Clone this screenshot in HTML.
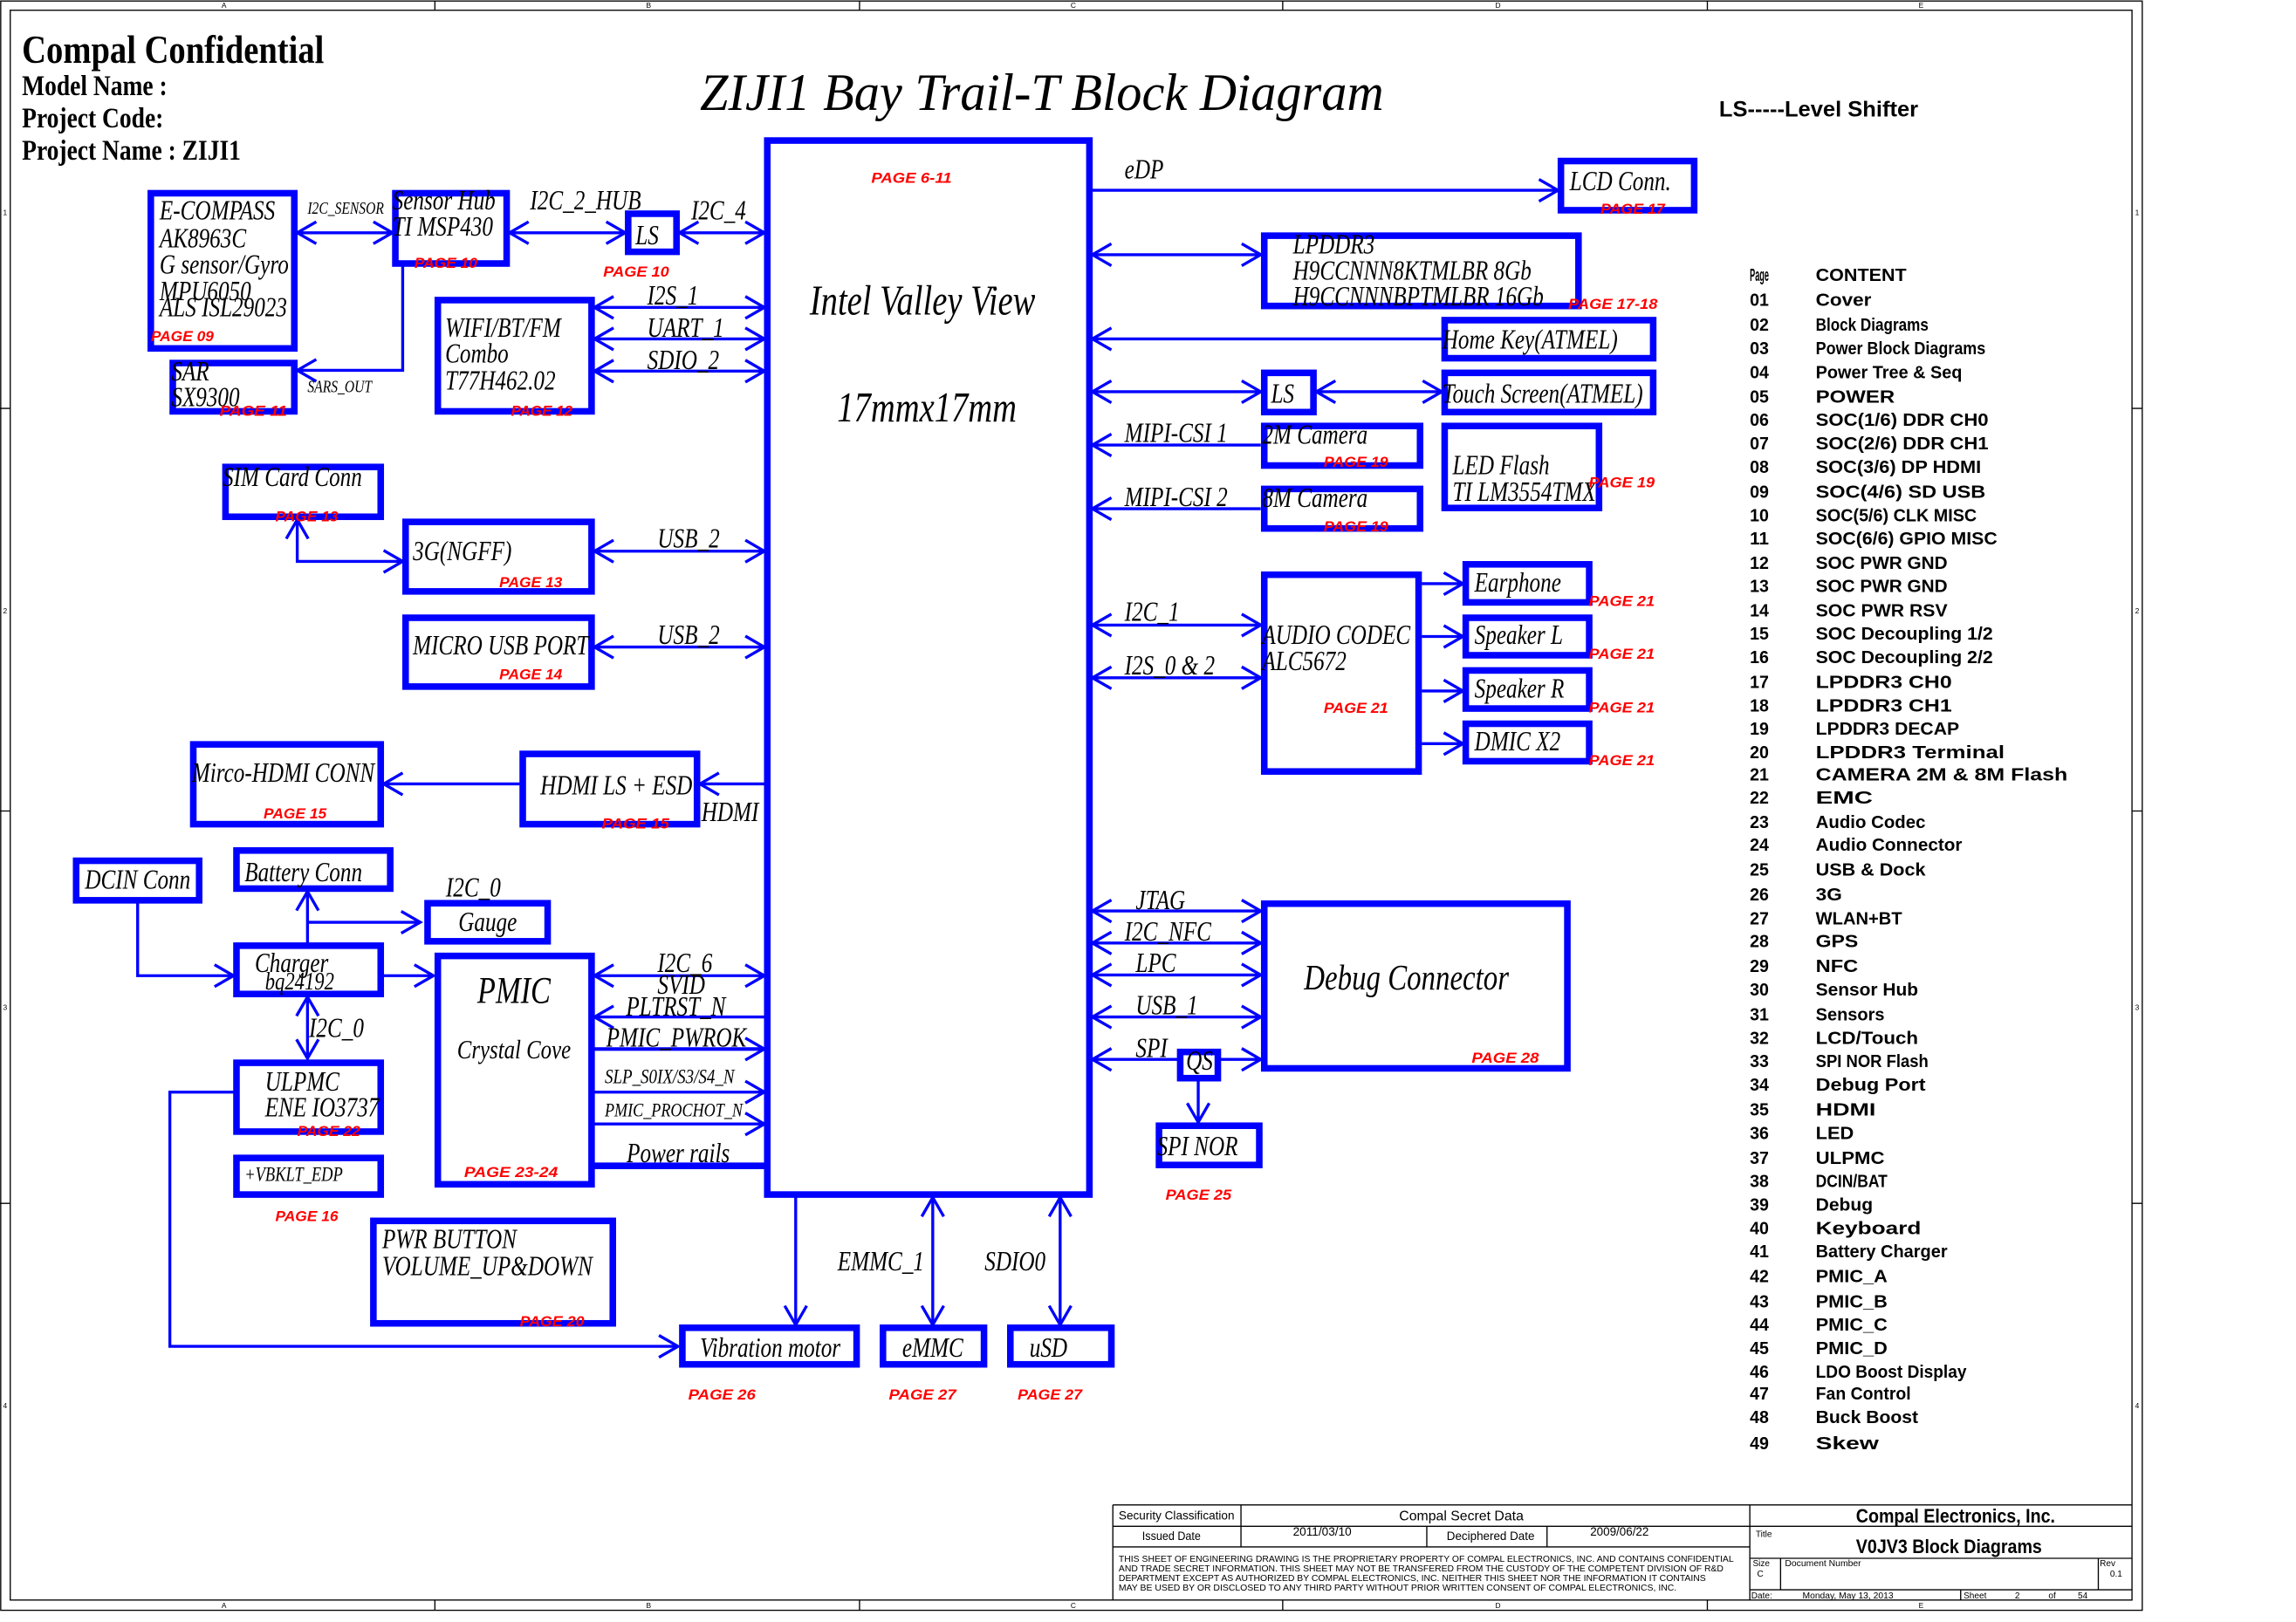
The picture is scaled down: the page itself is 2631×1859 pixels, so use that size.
<!DOCTYPE html>
<html><head><meta charset="utf-8"><style>
html,body{margin:0;padding:0;background:#fff}
svg{display:block}
.t{font-family:"Liberation Serif",serif;font-style:italic;font-size:15px;fill:#000}
.s{font-family:"Liberation Serif",serif;font-style:italic;font-size:10px;fill:#000}
.r{font-family:"Liberation Sans",sans-serif;font-style:italic;font-weight:bold;font-size:10px;fill:#ff0000}
.b{fill:none;stroke:#0000ff;stroke-width:4.5}
.l{fill:none;stroke:#0000ff;stroke-width:2}
.k{fill:none;stroke:#000;stroke-width:0.8}
.f{font-family:"Liberation Sans",sans-serif;fill:#000}
.ix{font-family:"Liberation Sans",sans-serif;font-weight:bold;font-size:12px;fill:#000}
</style></head><body>
<svg width="2631" height="1859" viewBox="0 0 1568 1108" preserveAspectRatio="none" xmlns="http://www.w3.org/2000/svg">
<defs>
<marker id="a" markerUnits="userSpaceOnUse" markerWidth="20" markerHeight="20" refX="13" refY="7.5" orient="auto-start-reverse" overflow="visible"><path d="M0,0 L13,7.5 L0,15" fill="none" stroke="#0000ff" stroke-width="2"/></marker>
</defs>
<rect width="1568" height="1108" fill="#fff"/>
<!-- frame -->
<rect x="0.5" y="0.7" width="1462.5" height="1099.3" class="k"/>
<rect x="7" y="7" width="1449" height="1086" class="k"/>
<g class="k">
<path d="M297,0.7V7M587,0.7V7M876,0.7V7M1166,0.7V7M297,1093V1100M587,1093V1100M876,1093V1100M1166,1093V1100"/>
<path d="M0,279H7M0,554H7M0,822H7M1456,279H1463M1456,554H1463M1456,822H1463"/>
</g>
<g class="f" font-size="5" text-anchor="middle">
<text x="153" y="5.5">A</text><text x="443" y="5.5">B</text><text x="733" y="5.5">C</text><text x="1023" y="5.5">D</text><text x="1312" y="5.5">E</text>
<text x="153" y="1098.5">A</text><text x="443" y="1098.5">B</text><text x="733" y="1098.5">C</text><text x="1023" y="1098.5">D</text><text x="1312" y="1098.5">E</text>
<text x="3.5" y="147">1</text><text x="3.5" y="419">2</text><text x="3.5" y="690">3</text><text x="3.5" y="962">4</text>
<text x="1459.5" y="147">1</text><text x="1459.5" y="419">2</text><text x="1459.5" y="690">3</text><text x="1459.5" y="962">4</text>
</g>

<!-- header -->
<g font-family="Liberation Serif, serif" font-weight="bold" fill="#000">
<text transform="matrix(1 0 0 1.17 15 43)" font-size="23">Compal Confidential</text>
<text transform="matrix(1 0 0 1.2 15 65)" font-size="16.4">Model Name :</text>
<text transform="matrix(1 0 0 1.2 15 87)" font-size="16.4">Project Code:</text>
<text transform="matrix(1 0 0 1.2 15 109)" font-size="16.4">Project Name : ZIJI1</text>
</g>
<text x="478" y="75" class="t" style="font-size:36px" textLength="467" lengthAdjust="spacingAndGlyphs">ZIJI1 Bay Trail-T Block Diagram</text>
<text x="1174" y="79.5" class="f" font-weight="bold" font-size="15" textLength="136" lengthAdjust="spacingAndGlyphs">LS-----Level Shifter</text>

<!-- boxes -->
<g class="b">
<rect x="524" y="96" width="220" height="720"/>
<rect x="103" y="132" width="98" height="106"/>
<rect x="270" y="132" width="76" height="48"/>
<rect x="429" y="146" width="33" height="26"/>
<rect x="118" y="248" width="83" height="33"/>
<rect x="299" y="205" width="105" height="76"/>
<rect x="154" y="319" width="106" height="34"/>
<rect x="277" y="356.5" width="127" height="47.5"/>
<rect x="277" y="422" width="127" height="47"/>
<rect x="132" y="508.5" width="128" height="54.5"/>
<rect x="357" y="515" width="119" height="48"/>
<rect x="52" y="588" width="84" height="27"/>
<rect x="161.5" y="581" width="105" height="26"/>
<rect x="292" y="617" width="82" height="26"/>
<rect x="161.5" y="646" width="98.5" height="33"/>
<rect x="161.5" y="726" width="98.5" height="47"/>
<rect x="161.5" y="791" width="98.5" height="25"/>
<rect x="299" y="653" width="105" height="156"/>
<rect x="255" y="834" width="163.5" height="70"/>
<rect x="466" y="907" width="119" height="25"/>
<rect x="603" y="907" width="69" height="25"/>
<rect x="690" y="907" width="69" height="25"/>
<rect x="1066" y="110" width="91" height="33.6"/>
<rect x="863.4" y="161" width="214.6" height="48"/>
<rect x="986.6" y="218.7" width="142.4" height="26"/>
<rect x="863.4" y="254.7" width="33.6" height="26.8"/>
<rect x="986.6" y="254.7" width="142.4" height="26.8"/>
<rect x="863.4" y="291" width="106.4" height="27"/>
<rect x="863.4" y="334" width="106.4" height="27"/>
<rect x="986.6" y="291" width="105.4" height="56"/>
<rect x="863.4" y="392.6" width="105.4" height="134.4"/>
<rect x="1001" y="385.5" width="84.3" height="26"/>
<rect x="1001" y="422" width="84.3" height="25.6"/>
<rect x="1001" y="458" width="84.3" height="26"/>
<rect x="1001" y="494.4" width="84.3" height="25.6"/>
<rect x="863.4" y="617.3" width="207" height="112.5"/>
<rect x="806" y="718.6" width="25.7" height="17.9"/>
<rect x="791.5" y="769" width="68.5" height="26.8"/>
</g>

<!-- connectors -->
<g class="l">
<path d="M203,159H268" marker-start="url(#a)" marker-end="url(#a)"/>
<path d="M348,159H427" marker-start="url(#a)" marker-end="url(#a)"/>
<path d="M464,159H522" marker-start="url(#a)" marker-end="url(#a)"/>
<path d="M275,182V253H203" marker-end="url(#a)"/>
<path d="M406,210H522" marker-start="url(#a)" marker-end="url(#a)"/>
<path d="M406,231.5H522" marker-start="url(#a)" marker-end="url(#a)"/>
<path d="M406,253.5H522" marker-start="url(#a)" marker-end="url(#a)"/>
<path d="M275,383.5H203V355" marker-start="url(#a)" marker-end="url(#a)"/>
<path d="M406,376.5H522" marker-start="url(#a)" marker-end="url(#a)"/>
<path d="M406,442H522" marker-start="url(#a)" marker-end="url(#a)"/>
<path d="M522,535.5H478" marker-end="url(#a)"/>
<path d="M355,535.5H262" marker-end="url(#a)"/>
<path d="M94,617V666.5H159.5" marker-end="url(#a)"/>
<path d="M210,644V609" marker-end="url(#a)"/>
<path d="M210,630H287" marker-end="url(#a)"/>
<path d="M262,666.5H296" marker-end="url(#a)"/>
<path d="M210,681V723" marker-start="url(#a)" marker-end="url(#a)"/>
<path d="M159.5,746H116V919.7H463" marker-end="url(#a)"/>
<path d="M406,666.5H522" marker-start="url(#a)" marker-end="url(#a)"/>
<path d="M522,694.7H406" marker-end="url(#a)"/>
<path d="M406,716.6H522" marker-end="url(#a)" stroke-width="2.5"/>
<path d="M406,746H522" marker-end="url(#a)"/>
<path d="M406,767.8H522" marker-end="url(#a)"/>
<path d="M406,796.4H522" stroke-width="4.5"/>
<path d="M543.4,818V905" marker-end="url(#a)"/>
<path d="M637,818V905" marker-start="url(#a)" marker-end="url(#a)"/>
<path d="M724,818V905" marker-start="url(#a)" marker-end="url(#a)"/>
<path d="M746,130H1064" marker-end="url(#a)"/>
<path d="M746,174H861" marker-start="url(#a)" marker-end="url(#a)"/>
<path d="M984.6,231.5H746" marker-end="url(#a)"/>
<path d="M746,267.6H861" marker-start="url(#a)" marker-end="url(#a)"/>
<path d="M899,267.6H984.6" marker-start="url(#a)" marker-end="url(#a)"/>
<path d="M861,304H746" marker-end="url(#a)"/>
<path d="M861,347.5H746" marker-end="url(#a)"/>
<path d="M746,427H861" marker-start="url(#a)" marker-end="url(#a)"/>
<path d="M746,463H861" marker-start="url(#a)" marker-end="url(#a)"/>
<path d="M971,398.7H999" marker-end="url(#a)"/>
<path d="M971,434.8H999" marker-end="url(#a)"/>
<path d="M971,472H999" marker-end="url(#a)"/>
<path d="M971,508H999" marker-end="url(#a)"/>
<path d="M746,622.3H861" marker-start="url(#a)" marker-end="url(#a)"/>
<path d="M746,644.2H861" marker-start="url(#a)" marker-end="url(#a)"/>
<path d="M746,666H861" marker-start="url(#a)" marker-end="url(#a)"/>
<path d="M746,694.7H861" marker-start="url(#a)" marker-end="url(#a)"/>
<path d="M746,723.7H804" marker-start="url(#a)"/>
<path d="M833.7,723.7H861" marker-end="url(#a)"/>
<path d="M818.3,738.5V766.6" marker-end="url(#a)"/>
</g>

<!-- labels -->
<g>
<text class="t" transform="matrix(1 0 0 1.25 109 150)">E-COMPASS</text>
<text class="t" transform="matrix(1 0 0 1.25 109 169)">AK8963C</text>
<text class="t" transform="matrix(1 0 0 1.25 109 187)">G sensor/Gyro</text>
<text class="t" transform="matrix(1 0 0 1.25 109 205)">MPU6050</text>
<text class="t" transform="matrix(1 0 0 1.25 109 216)">ALS ISL29023</text>
<text class="s" transform="matrix(1 0 0 1.25 210 146)" style="font-size:9.3px">I2C_SENSOR</text>
<text class="t" transform="matrix(1 0 0 1.25 268 143)">Sensor Hub</text>
<text class="t" transform="matrix(1 0 0 1.25 268 161)">TI MSP430</text>
<text class="t" transform="matrix(1 0 0 1.25 362 143)">I2C_2_HUB</text>
<text class="t" transform="matrix(1 0 0 1.25 434 167)">LS</text>
<text class="t" transform="matrix(1 0 0 1.25 472 150)">I2C_4</text>
<text class="t" transform="matrix(1 0 0 1.25 117 260)">SAR</text>
<text class="t" transform="matrix(1 0 0 1.25 117 277.5)">SX9300</text>
<text class="s" transform="matrix(1 0 0 1.25 210 268)" style="font-size:9.3px">SARS_OUT</text>
<text class="t" transform="matrix(1 0 0 1.25 304 230)">WIFI/BT/FM</text>
<text class="t" transform="matrix(1 0 0 1.25 304 247.5)">Combo</text>
<text class="t" transform="matrix(1 0 0 1.25 304 266)">T77H462.02</text>
<text class="t" transform="matrix(1 0 0 1.25 442 208)">I2S_1</text>
<text class="t" transform="matrix(1 0 0 1.25 442 230)">UART_1</text>
<text class="t" transform="matrix(1 0 0 1.25 442 252)">SDIO_2</text>
<text class="t" style="font-size:23px" text-anchor="middle" transform="matrix(1 0 0 1.25 630 215)">Intel Valley View</text>
<text class="t" style="font-size:23px" text-anchor="middle" transform="matrix(1 0 0 1.25 633 288)">17mmx17mm</text>
<text class="t" transform="matrix(1 0 0 1.25 152 332)">SIM Card Conn</text>
<text class="t" transform="matrix(1 0 0 1.25 282 382.5)">3G(NGFF)</text>
<text class="t" transform="matrix(1 0 0 1.25 449 374)">USB_2</text>
<text class="t" transform="matrix(1 0 0 1.25 282 447)">MICRO USB PORT</text>
<text class="t" transform="matrix(1 0 0 1.25 449 440)">USB_2</text>
<text class="t" transform="matrix(1 0 0 1.25 131 534)">Mirco-HDMI CONN</text>
<text class="t" transform="matrix(1 0 0 1.25 369 542.6)">HDMI LS + ESD</text>
<text class="t" transform="matrix(1 0 0 1.25 479 561)">HDMI</text>
<text class="t" transform="matrix(1 0 0 1.25 58 607)">DCIN Conn</text>
<text class="t" transform="matrix(1 0 0 1.25 167 602)">Battery Conn</text>
<text class="t" transform="matrix(1 0 0 1.25 304.5 612.5)">I2C_0</text>
<text class="t" text-anchor="middle" transform="matrix(1 0 0 1.25 333 636)">Gauge</text>
<text class="t" transform="matrix(1 0 0 1.25 174 664)">Charger</text>
<text class="t" style="font-size:13.5px" transform="matrix(1 0 0 1.25 181 676)">bq24192</text>
<text class="t" transform="matrix(1 0 0 1.25 211 708.5)">I2C_0</text>
<text class="t" transform="matrix(1 0 0 1.25 181 745)">ULPMC</text>
<text class="t" transform="matrix(1 0 0 1.25 181 762.5)">ENE IO3737</text>
<text class="s" style="font-size:11px" transform="matrix(1 0 0 1.25 167 806.7)">+VBKLT_EDP</text>
<text class="t" style="font-size:20.5px" text-anchor="middle" transform="matrix(1 0 0 1.25 351 685)">PMIC</text>
<text class="t" style="font-size:14.8px" text-anchor="middle" transform="matrix(1 0 0 1.25 351 723)">Crystal Cove</text>
<text class="t" transform="matrix(1 0 0 1.25 449 664)">I2C_6</text>
<text class="t" transform="matrix(1 0 0 1.25 449 679)">SVID</text>
<text class="t" transform="matrix(1 0 0 1.25 427.5 693.7)">PLTRST_N</text>
<text class="t" transform="matrix(1 0 0 1.25 414 715)">PMIC_PWROK</text>
<text class="s" style="font-size:11.3px" transform="matrix(1 0 0 1.25 413 740)">SLP_S0IX/S3/S4_N</text>
<text class="s" style="font-size:10.8px" transform="matrix(1 0 0 1.25 413 762.5)">PMIC_PROCHOT_N</text>
<text class="t" transform="matrix(1 0 0 1.25 428 794)">Power rails</text>
<text class="t" transform="matrix(1 0 0 1.25 261 852.6)">PWR BUTTON</text>
<text class="t" transform="matrix(1 0 0 1.25 261 871)">VOLUME_UP&amp;DOWN</text>
<text class="t" text-anchor="middle" transform="matrix(1 0 0 1.25 526 926.7)">Vibration motor</text>
<text class="t" text-anchor="middle" transform="matrix(1 0 0 1.25 637 926.7)">eMMC</text>
<text class="t" text-anchor="middle" transform="matrix(1 0 0 1.25 716 926.7)">uSD</text>
<text class="t" transform="matrix(1 0 0 1.25 572 867.8)">EMMC_1</text>
<text class="t" transform="matrix(1 0 0 1.25 672.4 867.8)">SDIO0</text>
<text class="t" transform="matrix(1 0 0 1.25 768 122)">eDP</text>
<text class="t" transform="matrix(1 0 0 1.25 1072 130)">LCD Conn.</text>
<text class="t" transform="matrix(1 0 0 1.25 883 173)">LPDDR3</text>
<text class="t" transform="matrix(1 0 0 1.25 883 191)">H9CCNNN8KTMLBR 8Gb</text>
<text class="t" transform="matrix(1 0 0 1.25 883 208.5)">H9CCNNNBPTMLBR 16Gb</text>
<text class="t" transform="matrix(1 0 0 1.25 985 238)">Home Key(ATMEL)</text>
<text class="t" transform="matrix(1 0 0 1.25 868 275)">LS</text>
<text class="t" transform="matrix(1 0 0 1.25 985 275)">Touch Screen(ATMEL)</text>
<text class="t" transform="matrix(1 0 0 1.25 862 303)">2M Camera</text>
<text class="t" transform="matrix(1 0 0 1.25 862 346.4)">8M Camera</text>
<text class="t" transform="matrix(1 0 0 1.25 768 302)">MIPI-CSI 1</text>
<text class="t" transform="matrix(1 0 0 1.25 768 345.7)">MIPI-CSI 2</text>
<text class="t" transform="matrix(1 0 0 1.25 992 324)">LED Flash</text>
<text class="t" transform="matrix(1 0 0 1.25 992 342)">TI LM3554TMX</text>
<text class="t" transform="matrix(1 0 0 1.25 862 440)">AUDIO CODEC</text>
<text class="t" transform="matrix(1 0 0 1.25 862 457.8)">ALC5672</text>
<text class="t" transform="matrix(1 0 0 1.25 768 424)">I2C_1</text>
<text class="t" transform="matrix(1 0 0 1.25 768 460.6)">I2S_0 &amp; 2</text>
<text class="t" transform="matrix(1 0 0 1.25 1007 404)">Earphone</text>
<text class="t" transform="matrix(1 0 0 1.25 1007 440)">Speaker L</text>
<text class="t" transform="matrix(1 0 0 1.25 1007 476.5)">Speaker R</text>
<text class="t" transform="matrix(1 0 0 1.25 1007 512.6)">DMIC X2</text>
<text class="t" style="font-size:19.6px" text-anchor="middle" transform="matrix(1 0 0 1.25 960.5 676)">Debug Connector</text>
<text class="t" transform="matrix(1 0 0 1.25 775.6 621)">JTAG</text>
<text class="t" transform="matrix(1 0 0 1.25 768 642.5)">I2C_NFC</text>
<text class="t" transform="matrix(1 0 0 1.25 775.6 664)">LPC</text>
<text class="t" transform="matrix(1 0 0 1.25 775.6 693)">USB_1</text>
<text class="t" transform="matrix(1 0 0 1.25 775.6 722)">SPI</text>
<text class="t" transform="matrix(1 0 0 1.25 810 730.8)">QS</text>
<text class="t" transform="matrix(1 0 0 1.25 790 789)">SPI NOR</text>
</g>

<!-- red page marks -->
<g class="r">
<text x="103" y="233" textLength="43" lengthAdjust="spacingAndGlyphs">PAGE 09</text>
<text x="283" y="183" textLength="43" lengthAdjust="spacingAndGlyphs">PAGE 10</text>
<text x="412" y="189" textLength="45" lengthAdjust="spacingAndGlyphs">PAGE 10</text>
<text x="150" y="284" textLength="46" lengthAdjust="spacingAndGlyphs">PAGE 11</text>
<text x="349" y="284" textLength="42" lengthAdjust="spacingAndGlyphs">PAGE 12</text>
<text x="595" y="125" textLength="55" lengthAdjust="spacingAndGlyphs">PAGE 6-11</text>
<text x="188" y="356" textLength="43" lengthAdjust="spacingAndGlyphs">PAGE 13</text>
<text x="341" y="401" textLength="43" lengthAdjust="spacingAndGlyphs">PAGE 13</text>
<text x="341" y="464" textLength="43" lengthAdjust="spacingAndGlyphs">PAGE 14</text>
<text x="180" y="559" textLength="43" lengthAdjust="spacingAndGlyphs">PAGE 15</text>
<text x="411" y="566" textLength="46" lengthAdjust="spacingAndGlyphs">PAGE 15</text>
<text x="203" y="776" textLength="43" lengthAdjust="spacingAndGlyphs">PAGE 22</text>
<text x="188" y="834" textLength="43" lengthAdjust="spacingAndGlyphs">PAGE 16</text>
<text x="317" y="804" textLength="64" lengthAdjust="spacingAndGlyphs">PAGE 23-24</text>
<text x="355" y="906" textLength="44" lengthAdjust="spacingAndGlyphs">PAGE 20</text>
<text x="470" y="956" textLength="46" lengthAdjust="spacingAndGlyphs">PAGE 26</text>
<text x="607" y="956" textLength="46" lengthAdjust="spacingAndGlyphs">PAGE 27</text>
<text x="695" y="956" textLength="44" lengthAdjust="spacingAndGlyphs">PAGE 27</text>
<text x="1093" y="146" textLength="44" lengthAdjust="spacingAndGlyphs">PAGE 17</text>
<text x="1071" y="211" textLength="61" lengthAdjust="spacingAndGlyphs">PAGE 17-18</text>
<text x="904" y="319" textLength="44" lengthAdjust="spacingAndGlyphs">PAGE 19</text>
<text x="904" y="363" textLength="44" lengthAdjust="spacingAndGlyphs">PAGE 19</text>
<text x="1085" y="333" textLength="45" lengthAdjust="spacingAndGlyphs">PAGE 19</text>
<text x="904" y="487" textLength="44" lengthAdjust="spacingAndGlyphs">PAGE 21</text>
<text x="1085" y="414" textLength="45" lengthAdjust="spacingAndGlyphs">PAGE 21</text>
<text x="1085" y="450" textLength="45" lengthAdjust="spacingAndGlyphs">PAGE 21</text>
<text x="1085" y="486.6" textLength="45" lengthAdjust="spacingAndGlyphs">PAGE 21</text>
<text x="1085" y="522.6" textLength="45" lengthAdjust="spacingAndGlyphs">PAGE 21</text>
<text x="1005" y="726" textLength="46" lengthAdjust="spacingAndGlyphs">PAGE 28</text>
<text x="796" y="819.6" textLength="45" lengthAdjust="spacingAndGlyphs">PAGE 25</text>
</g>

<!-- index table -->
<g class="ix">
<text x="1195" y="192" textLength="13" lengthAdjust="spacingAndGlyphs">Page</text><text x="1240" y="192" textLength="62" lengthAdjust="spacingAndGlyphs">CONTENT</text>
<text x="1195" y="209" textLength="13" lengthAdjust="spacingAndGlyphs">01</text><text x="1240" y="209" textLength="38" lengthAdjust="spacingAndGlyphs">Cover</text>
<text x="1195" y="226" textLength="13" lengthAdjust="spacingAndGlyphs">02</text><text x="1240" y="226" textLength="77" lengthAdjust="spacingAndGlyphs">Block Diagrams</text>
<text x="1195" y="242" textLength="13" lengthAdjust="spacingAndGlyphs">03</text><text x="1240" y="242" textLength="116" lengthAdjust="spacingAndGlyphs">Power Block Diagrams</text>
<text x="1195" y="258.5" textLength="13" lengthAdjust="spacingAndGlyphs">04</text><text x="1240" y="258.5" textLength="100" lengthAdjust="spacingAndGlyphs">Power Tree &amp; Seq</text>
<text x="1195" y="275" textLength="13" lengthAdjust="spacingAndGlyphs">05</text><text x="1240" y="275" textLength="54" lengthAdjust="spacingAndGlyphs">POWER</text>
<text x="1195" y="291" textLength="13" lengthAdjust="spacingAndGlyphs">06</text><text x="1240" y="291" textLength="118" lengthAdjust="spacingAndGlyphs">SOC(1/6) DDR CH0</text>
<text x="1195" y="307" textLength="13" lengthAdjust="spacingAndGlyphs">07</text><text x="1240" y="307" textLength="118" lengthAdjust="spacingAndGlyphs">SOC(2/6) DDR CH1</text>
<text x="1195" y="323" textLength="13" lengthAdjust="spacingAndGlyphs">08</text><text x="1240" y="323" textLength="113" lengthAdjust="spacingAndGlyphs">SOC(3/6) DP HDMI</text>
<text x="1195" y="340" textLength="13" lengthAdjust="spacingAndGlyphs">09</text><text x="1240" y="340" textLength="116" lengthAdjust="spacingAndGlyphs">SOC(4/6) SD USB</text>
<text x="1195" y="356" textLength="13" lengthAdjust="spacingAndGlyphs">10</text><text x="1240" y="356" textLength="110" lengthAdjust="spacingAndGlyphs">SOC(5/6) CLK MISC</text>
<text x="1195" y="372" textLength="13" lengthAdjust="spacingAndGlyphs">11</text><text x="1240" y="372" textLength="124" lengthAdjust="spacingAndGlyphs">SOC(6/6) GPIO MISC</text>
<text x="1195" y="388.5" textLength="13" lengthAdjust="spacingAndGlyphs">12</text><text x="1240" y="388.5" textLength="90" lengthAdjust="spacingAndGlyphs">SOC PWR GND</text>
<text x="1195" y="404.5" textLength="13" lengthAdjust="spacingAndGlyphs">13</text><text x="1240" y="404.5" textLength="90" lengthAdjust="spacingAndGlyphs">SOC PWR GND</text>
<text x="1195" y="421" textLength="13" lengthAdjust="spacingAndGlyphs">14</text><text x="1240" y="421" textLength="90" lengthAdjust="spacingAndGlyphs">SOC PWR RSV</text>
<text x="1195" y="437" textLength="13" lengthAdjust="spacingAndGlyphs">15</text><text x="1240" y="437" textLength="121" lengthAdjust="spacingAndGlyphs">SOC Decoupling 1/2</text>
<text x="1195" y="453" textLength="13" lengthAdjust="spacingAndGlyphs">16</text><text x="1240" y="453" textLength="121" lengthAdjust="spacingAndGlyphs">SOC Decoupling 2/2</text>
<text x="1195" y="470" textLength="13" lengthAdjust="spacingAndGlyphs">17</text><text x="1240" y="470" textLength="93" lengthAdjust="spacingAndGlyphs">LPDDR3 CH0</text>
<text x="1195" y="486" textLength="13" lengthAdjust="spacingAndGlyphs">18</text><text x="1240" y="486" textLength="93" lengthAdjust="spacingAndGlyphs">LPDDR3 CH1</text>
<text x="1195" y="502" textLength="13" lengthAdjust="spacingAndGlyphs">19</text><text x="1240" y="502" textLength="98" lengthAdjust="spacingAndGlyphs">LPDDR3 DECAP</text>
<text x="1195" y="518" textLength="13" lengthAdjust="spacingAndGlyphs">20</text><text x="1240" y="518" textLength="129" lengthAdjust="spacingAndGlyphs">LPDDR3 Terminal</text>
<text x="1195" y="533" textLength="13" lengthAdjust="spacingAndGlyphs">21</text><text x="1240" y="533" textLength="172" lengthAdjust="spacingAndGlyphs">CAMERA 2M &amp; 8M Flash</text>
<text x="1195" y="549" textLength="13" lengthAdjust="spacingAndGlyphs">22</text><text x="1240" y="549" textLength="39" lengthAdjust="spacingAndGlyphs">EMC</text>
<text x="1195" y="565.6" textLength="13" lengthAdjust="spacingAndGlyphs">23</text><text x="1240" y="565.6" textLength="75" lengthAdjust="spacingAndGlyphs">Audio Codec</text>
<text x="1195" y="581" textLength="13" lengthAdjust="spacingAndGlyphs">24</text><text x="1240" y="581" textLength="100" lengthAdjust="spacingAndGlyphs">Audio Connector</text>
<text x="1195" y="598" textLength="13" lengthAdjust="spacingAndGlyphs">25</text><text x="1240" y="598" textLength="75" lengthAdjust="spacingAndGlyphs">USB &amp; Dock</text>
<text x="1195" y="615" textLength="13" lengthAdjust="spacingAndGlyphs">26</text><text x="1240" y="615" textLength="18" lengthAdjust="spacingAndGlyphs">3G</text>
<text x="1195" y="631.6" textLength="13" lengthAdjust="spacingAndGlyphs">27</text><text x="1240" y="631.6" textLength="59" lengthAdjust="spacingAndGlyphs">WLAN+BT</text>
<text x="1195" y="647" textLength="13" lengthAdjust="spacingAndGlyphs">28</text><text x="1240" y="647" textLength="29" lengthAdjust="spacingAndGlyphs">GPS</text>
<text x="1195" y="664" textLength="13" lengthAdjust="spacingAndGlyphs">29</text><text x="1240" y="664" textLength="29" lengthAdjust="spacingAndGlyphs">NFC</text>
<text x="1195" y="680" textLength="13" lengthAdjust="spacingAndGlyphs">30</text><text x="1240" y="680" textLength="70" lengthAdjust="spacingAndGlyphs">Sensor Hub</text>
<text x="1195" y="697" textLength="13" lengthAdjust="spacingAndGlyphs">31</text><text x="1240" y="697" textLength="47" lengthAdjust="spacingAndGlyphs">Sensors</text>
<text x="1195" y="713" textLength="13" lengthAdjust="spacingAndGlyphs">32</text><text x="1240" y="713" textLength="70" lengthAdjust="spacingAndGlyphs">LCD/Touch</text>
<text x="1195" y="729" textLength="13" lengthAdjust="spacingAndGlyphs">33</text><text x="1240" y="729" textLength="77" lengthAdjust="spacingAndGlyphs">SPI NOR Flash</text>
<text x="1195" y="745" textLength="13" lengthAdjust="spacingAndGlyphs">34</text><text x="1240" y="745" textLength="75" lengthAdjust="spacingAndGlyphs">Debug Port</text>
<text x="1195" y="762" textLength="13" lengthAdjust="spacingAndGlyphs">35</text><text x="1240" y="762" textLength="41" lengthAdjust="spacingAndGlyphs">HDMI</text>
<text x="1195" y="778" textLength="13" lengthAdjust="spacingAndGlyphs">36</text><text x="1240" y="778" textLength="26" lengthAdjust="spacingAndGlyphs">LED</text>
<text x="1195" y="795" textLength="13" lengthAdjust="spacingAndGlyphs">37</text><text x="1240" y="795" textLength="47" lengthAdjust="spacingAndGlyphs">ULPMC</text>
<text x="1195" y="811" textLength="13" lengthAdjust="spacingAndGlyphs">38</text><text x="1240" y="811" textLength="49" lengthAdjust="spacingAndGlyphs">DCIN/BAT</text>
<text x="1195" y="827" textLength="13" lengthAdjust="spacingAndGlyphs">39</text><text x="1240" y="827" textLength="39" lengthAdjust="spacingAndGlyphs">Debug</text>
<text x="1195" y="843" textLength="13" lengthAdjust="spacingAndGlyphs">40</text><text x="1240" y="843" textLength="72" lengthAdjust="spacingAndGlyphs">Keyboard</text>
<text x="1195" y="859" textLength="13" lengthAdjust="spacingAndGlyphs">41</text><text x="1240" y="859" textLength="90" lengthAdjust="spacingAndGlyphs">Battery Charger</text>
<text x="1195" y="876" textLength="13" lengthAdjust="spacingAndGlyphs">42</text><text x="1240" y="876" textLength="49" lengthAdjust="spacingAndGlyphs">PMIC_A</text>
<text x="1195" y="893" textLength="13" lengthAdjust="spacingAndGlyphs">43</text><text x="1240" y="893" textLength="49" lengthAdjust="spacingAndGlyphs">PMIC_B</text>
<text x="1195" y="909" textLength="13" lengthAdjust="spacingAndGlyphs">44</text><text x="1240" y="909" textLength="49" lengthAdjust="spacingAndGlyphs">PMIC_C</text>
<text x="1195" y="925" textLength="13" lengthAdjust="spacingAndGlyphs">45</text><text x="1240" y="925" textLength="49" lengthAdjust="spacingAndGlyphs">PMIC_D</text>
<text x="1195" y="941" textLength="13" lengthAdjust="spacingAndGlyphs">46</text><text x="1240" y="941" textLength="103" lengthAdjust="spacingAndGlyphs">LDO Boost Display</text>
<text x="1195" y="956" textLength="13" lengthAdjust="spacingAndGlyphs">47</text><text x="1240" y="956" textLength="65" lengthAdjust="spacingAndGlyphs">Fan Control</text>
<text x="1195" y="972" textLength="13" lengthAdjust="spacingAndGlyphs">48</text><text x="1240" y="972" textLength="70" lengthAdjust="spacingAndGlyphs">Buck Boost</text>
<text x="1195" y="990" textLength="13" lengthAdjust="spacingAndGlyphs">49</text><text x="1240" y="990" textLength="43" lengthAdjust="spacingAndGlyphs">Skew</text>
</g>

<!-- title block -->
<g class="k">
<path d="M760,1028H1456M760,1028V1093M760,1042.6H1456M760,1056.7H1195M847.5,1028V1056.7M974.4,1042.6V1056.7M1056.5,1042.6V1056.7M1195,1028V1093M1195,1064.5H1456M1216,1064.5V1086M1433,1064.5V1086M1195,1086H1456M1339,1086V1093"/>
</g>
<g class="f">
<text x="764" y="1038" font-size="8.5" textLength="79" lengthAdjust="spacingAndGlyphs">Security Classification</text>
<text x="998" y="1038.5" font-size="9.5" text-anchor="middle" textLength="85" lengthAdjust="spacingAndGlyphs">Compal Secret Data</text>
<text x="780" y="1052" font-size="8" textLength="40" lengthAdjust="spacingAndGlyphs">Issued Date</text>
<text x="883" y="1049" font-size="8" textLength="40" lengthAdjust="spacingAndGlyphs">2011/03/10</text>
<text x="988" y="1052" font-size="8" textLength="60" lengthAdjust="spacingAndGlyphs">Deciphered Date</text>
<text x="1086" y="1049" font-size="8" textLength="40" lengthAdjust="spacingAndGlyphs">2009/06/22</text>
<text x="764" y="1067" font-size="5.8" textLength="420" lengthAdjust="spacingAndGlyphs">THIS SHEET OF ENGINEERING DRAWING IS THE PROPRIETARY PROPERTY OF COMPAL ELECTRONICS, INC. AND CONTAINS CONFIDENTIAL</text>
<text x="764" y="1073.5" font-size="5.8" textLength="413" lengthAdjust="spacingAndGlyphs">AND TRADE SECRET INFORMATION. THIS SHEET MAY NOT BE TRANSFERED FROM THE CUSTODY OF THE COMPETENT DIVISION OF R&amp;D</text>
<text x="764" y="1080" font-size="5.8" textLength="401" lengthAdjust="spacingAndGlyphs">DEPARTMENT EXCEPT AS AUTHORIZED BY COMPAL ELECTRONICS, INC. NEITHER THIS SHEET NOR THE INFORMATION IT CONTAINS</text>
<text x="764" y="1086.5" font-size="5.8" textLength="381" lengthAdjust="spacingAndGlyphs">MAY BE USED BY OR DISCLOSED TO ANY THIRD PARTY WITHOUT PRIOR WRITTEN CONSENT OF COMPAL ELECTRONICS, INC.</text>
<text x="1267.5" y="1040" font-size="13" font-weight="bold" textLength="136" lengthAdjust="spacingAndGlyphs">Compal Electronics, Inc.</text>
<text x="1199" y="1050" font-size="6">Title</text>
<text x="1267.5" y="1061" font-size="13" font-weight="bold" textLength="127" lengthAdjust="spacingAndGlyphs">V0JV3 Block Diagrams</text>
<text x="1197" y="1070" font-size="6">Size</text>
<text x="1200" y="1077" font-size="6">C</text>
<text x="1219" y="1070" font-size="6" textLength="52" lengthAdjust="spacingAndGlyphs">Document Number</text>
<text x="1434" y="1070" font-size="6">Rev</text>
<text x="1441" y="1077" font-size="6">0.1</text>
<text x="1196" y="1092" font-size="6">Date:</text>
<text x="1231" y="1092" font-size="6" textLength="62" lengthAdjust="spacingAndGlyphs">Monday, May 13, 2013</text>
<text x="1341" y="1092" font-size="6">Sheet</text>
<text x="1376" y="1092" font-size="6">2</text>
<text x="1399" y="1092" font-size="6">of</text>
<text x="1419" y="1092" font-size="6">54</text>
</g>
</svg>
</body></html>
